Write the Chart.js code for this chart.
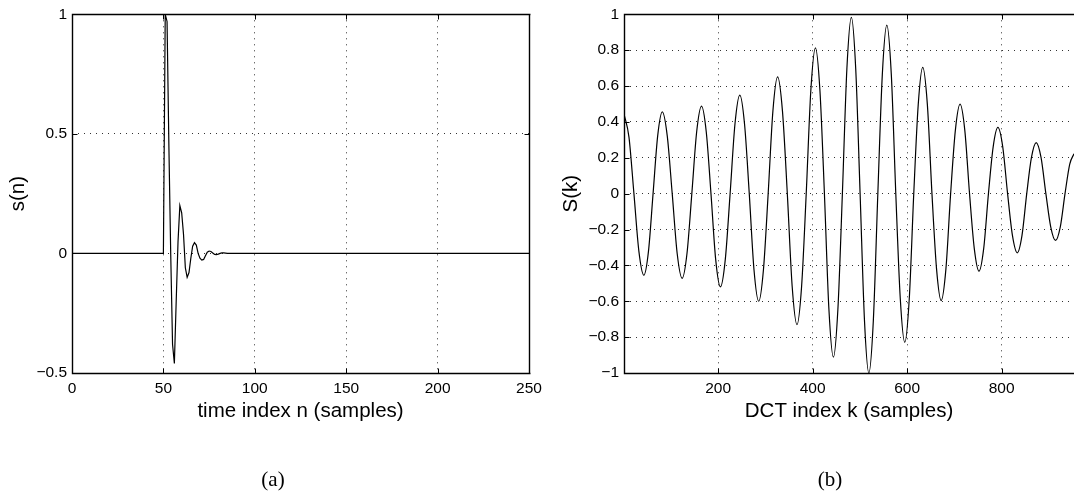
<!DOCTYPE html>
<html>
<head>
<meta charset="utf-8">
<script src="https://cdn.jsdelivr.net/npm/chart.js@4.4.1/dist/chart.umd.min.js"></script>
<style>
body { margin: 0; background: #fff; width: 1074px; height: 492px; position: relative; overflow: hidden; }
canvas { position: absolute; top: 0; }
#left { left: 0; }
#right { left: 550px; }
.cap { position: absolute; top: 467px; width: 100px; text-align: center; line-height: 24px;
       font-family: 'Liberation Serif', 'Times New Roman', serif; font-size: 21px; color: #000; }
</style>
</head>
<body>
<canvas id="left" width="560" height="492"></canvas>
<canvas id="right" width="524" height="492"></canvas>
<div class="cap" style="left:223px">(a)</div>
<div class="cap" style="left:780px">(b)</div>
<script>
// (a) time signal s(n)
var nIdx = [0, 50, 51, 52, 53, 54, 55, 56, 57, 58, 59, 60, 61, 62, 63, 64, 65, 66, 67,
            68, 69, 70, 71, 72, 73, 74, 75, 76, 77, 78, 79, 80, 81, 82, 83, 84, 85, 250];
var sVal = [0, 0, 1.0, 0.97, 0.45, 0.0, -0.38, -0.46, -0.2, 0.05, 0.2, 0.17, 0.08, -0.06, -0.1, -0.08, -0.02, 0.03, 0.045,
            0.035, 0.0, -0.02, -0.028, -0.025, -0.01, 0.005, 0.01, 0.008, 0.002, -0.004, -0.005, -0.003, 0, 0.002, 0.002, 0.001, 0, 0];

// (b) DCT S(k), read at peaks, zero crossings and half way between
var kIdx = [1,
  11.5, 22, 32.5, 43,   52.75, 62.5, 72.25, 82,   92.5, 103, 113.5, 124,   134.25, 144.5, 154.75, 165,
  175, 185, 195, 205,   215.25, 225.5, 235.75, 246,   256, 266, 276, 286,   296, 306, 316, 326,
  336.25, 346.5, 356.75, 367,   376.75, 386.5, 396.25, 406,   415.5, 425, 434.5, 444,   453.5, 463, 472.5, 482,
  491.25, 500.5, 509.75, 519,   528.5, 538, 547.5, 557,   566.5, 576, 585.5, 595,   604.5, 614, 623.5, 633,
  642.75, 652.5, 662.25, 672,   682, 692, 702, 712,   722, 732, 742, 752,   762, 772, 782, 792,
  802.25, 812.5, 822.75, 833,   843, 853, 863, 873,   883.25, 893.5, 903.75, 914,   924, 934, 944, 953];
var SkVal = [0.445,
  0.315, 0, -0.322, -0.455,   -0.322, 0, 0.322, 0.456,   0.322, 0, -0.334, -0.472,   -0.334, 0, 0.345, 0.488,
  0.345, 0, -0.368, -0.52,   -0.368, 0, 0.388, 0.549,   0.388, 0, -0.424, -0.6,   -0.424, 0, 0.46, 0.651,
  0.46, 0, -0.516, -0.73,   -0.516, 0, 0.575, 0.813,   0.575, 0, -0.645, -0.912,   -0.645, 0, 0.695, 0.983,
  0.695, 0, -0.707, -1.0,   -0.707, 0, 0.665, 0.94,   0.665, 0, -0.586, -0.829,   -0.586, 0, 0.498, 0.704,
  0.498, 0, -0.421, -0.596,   -0.421, 0, 0.353, 0.499,   0.353, 0, -0.305, -0.432,   -0.305, 0, 0.261, 0.369,
  0.261, 0, -0.233, -0.33,   -0.233, 0, 0.202, 0.285,   0.202, 0, -0.185, -0.261,   -0.185, 0, 0.165, 0.222];

// tick labels
var nTicks = [0, 50, 100, 150, 200, 250];
var sTicks = [-0.5, 0, 0.5, 1];
var kTicks = [200, 400, 600, 800];
var SkTicks = [-1, -0.8, -0.6, -0.4, -0.2, 0, 0.2, 0.4, 0.6, 0.8, 1];

Chart.defaults.font.family = "'Liberation Sans', Arial, sans-serif";
Chart.defaults.color = '#000';

function fmt(v) {
  return v === 0 ? '0' : (v < 0 ? '\u2212' : '') + Math.abs(v);
}

// matlab style box with inward ticks
var boxPlugin = {
  id: 'box',
  afterDraw: function (chart, args, opts) {
    var ctx = chart.ctx, a = chart.chartArea;
    var xs = chart.scales.x, ys = chart.scales.y;
    var L = Math.round(a.left) + 0.5, R = Math.round(a.right) + 0.5;
    var T = Math.round(a.top) + 0.5, B = Math.round(a.bottom) + 0.5;
    var tl = 5;
    ctx.save();
    ctx.strokeStyle = '#000';
    ctx.lineWidth = 1.4;
    ctx.beginPath();
    ctx.moveTo(R + 1, T); ctx.lineTo(L, T); ctx.lineTo(L, B); ctx.lineTo(R + 1, B);
    if (opts.right) { ctx.moveTo(R, T); ctx.lineTo(R, B); }
    ctx.stroke();
    ctx.lineWidth = 1;
    ctx.beginPath();
    xs.ticks.forEach(function (t) {
      var p = Math.round(xs.getPixelForValue(t.value)) + 0.5;
      ctx.moveTo(p, B); ctx.lineTo(p, B - tl);
      ctx.moveTo(p, T); ctx.lineTo(p, T + tl);
    });
    ys.ticks.forEach(function (t) {
      var p = Math.round(ys.getPixelForValue(t.value)) + 0.5;
      ctx.moveTo(L, p); ctx.lineTo(L + tl, p);
      if (opts.right) { ctx.moveTo(R, p); ctx.lineTo(R - tl, p); }
    });
    ctx.stroke();
    ctx.restore();
  }
};

function axis(min, max, ticks, title, titlePad, fit) {
  return {
    type: 'linear', min: min, max: max,
    afterBuildTicks: function (s) { s.ticks = ticks.map(function (v) { return { value: v }; }); },
    afterFit: fit,
    grid: { color: '#333', lineWidth: 1, drawTicks: false },
    border: { display: false, dash: [1, 5] },
    ticks: { padding: 0, font: { size: 15.5 }, callback: fmt, autoSkip: false, maxRotation: 0 },
    title: { display: true, text: title, font: { size: 20.5 }, padding: titlePad }
  };
}

function panel(id, xv, yv, o) {
  var pts = xv.map(function (x, i) { return { x: x, y: yv[i] }; });
  var xAxis = axis(o.xMin, o.xMax, o.xTicks, o.xTitle, { top: 0, bottom: 9.5 }, function (s) { s.height = 60; });
  xAxis.ticks.padding = 6.5;
  var yAxis = axis(o.yMin, o.yMax, o.yTicks, o.yTitle, { top: o.yTitlePad, bottom: 0 }, function (s) { s.width = o.yWidth; });
  yAxis.ticks.padding = 5;
  return new Chart(document.getElementById(id), {
    type: 'line',
    data: {
      datasets: [{
        data: pts,
        borderColor: '#000',
        borderWidth: 1.2,
        pointRadius: 0,
        fill: false,
        tension: 0,
        cubicInterpolationMode: o.smooth ? 'monotone' : 'default'
      }]
    },
    options: {
      responsive: false,
      animation: false,
      layout: { padding: { top: 14, bottom: 59, left: 0, right: o.padRight } },
      scales: { x: xAxis, y: yAxis },
      plugins: { legend: { display: false }, tooltip: { enabled: false }, box: { right: o.rightBorder } }
    },
    plugins: [boxPlugin]
  });
}

panel('left', nIdx, sVal, {
  xMin: 0, xMax: 250, xTicks: nTicks, xTitle: 'time index n (samples)',
  yMin: -0.5, yMax: 1, yTicks: sTicks, yTitle: 's(n)', yTitlePad: 6.3,
  yWidth: 72, padRight: 31, rightBorder: true, smooth: false
});

panel('right', kIdx, SkVal, {
  xMin: 1, xMax: 953, xTicks: kTicks, xTitle: 'DCT index k (samples)',
  yMin: -1, yMax: 1, yTicks: SkTicks, yTitle: 'S(k)', yTitlePad: 9.3,
  yWidth: 74, padRight: 0, rightBorder: false, smooth: true
});
</script>
</body>
</html>
